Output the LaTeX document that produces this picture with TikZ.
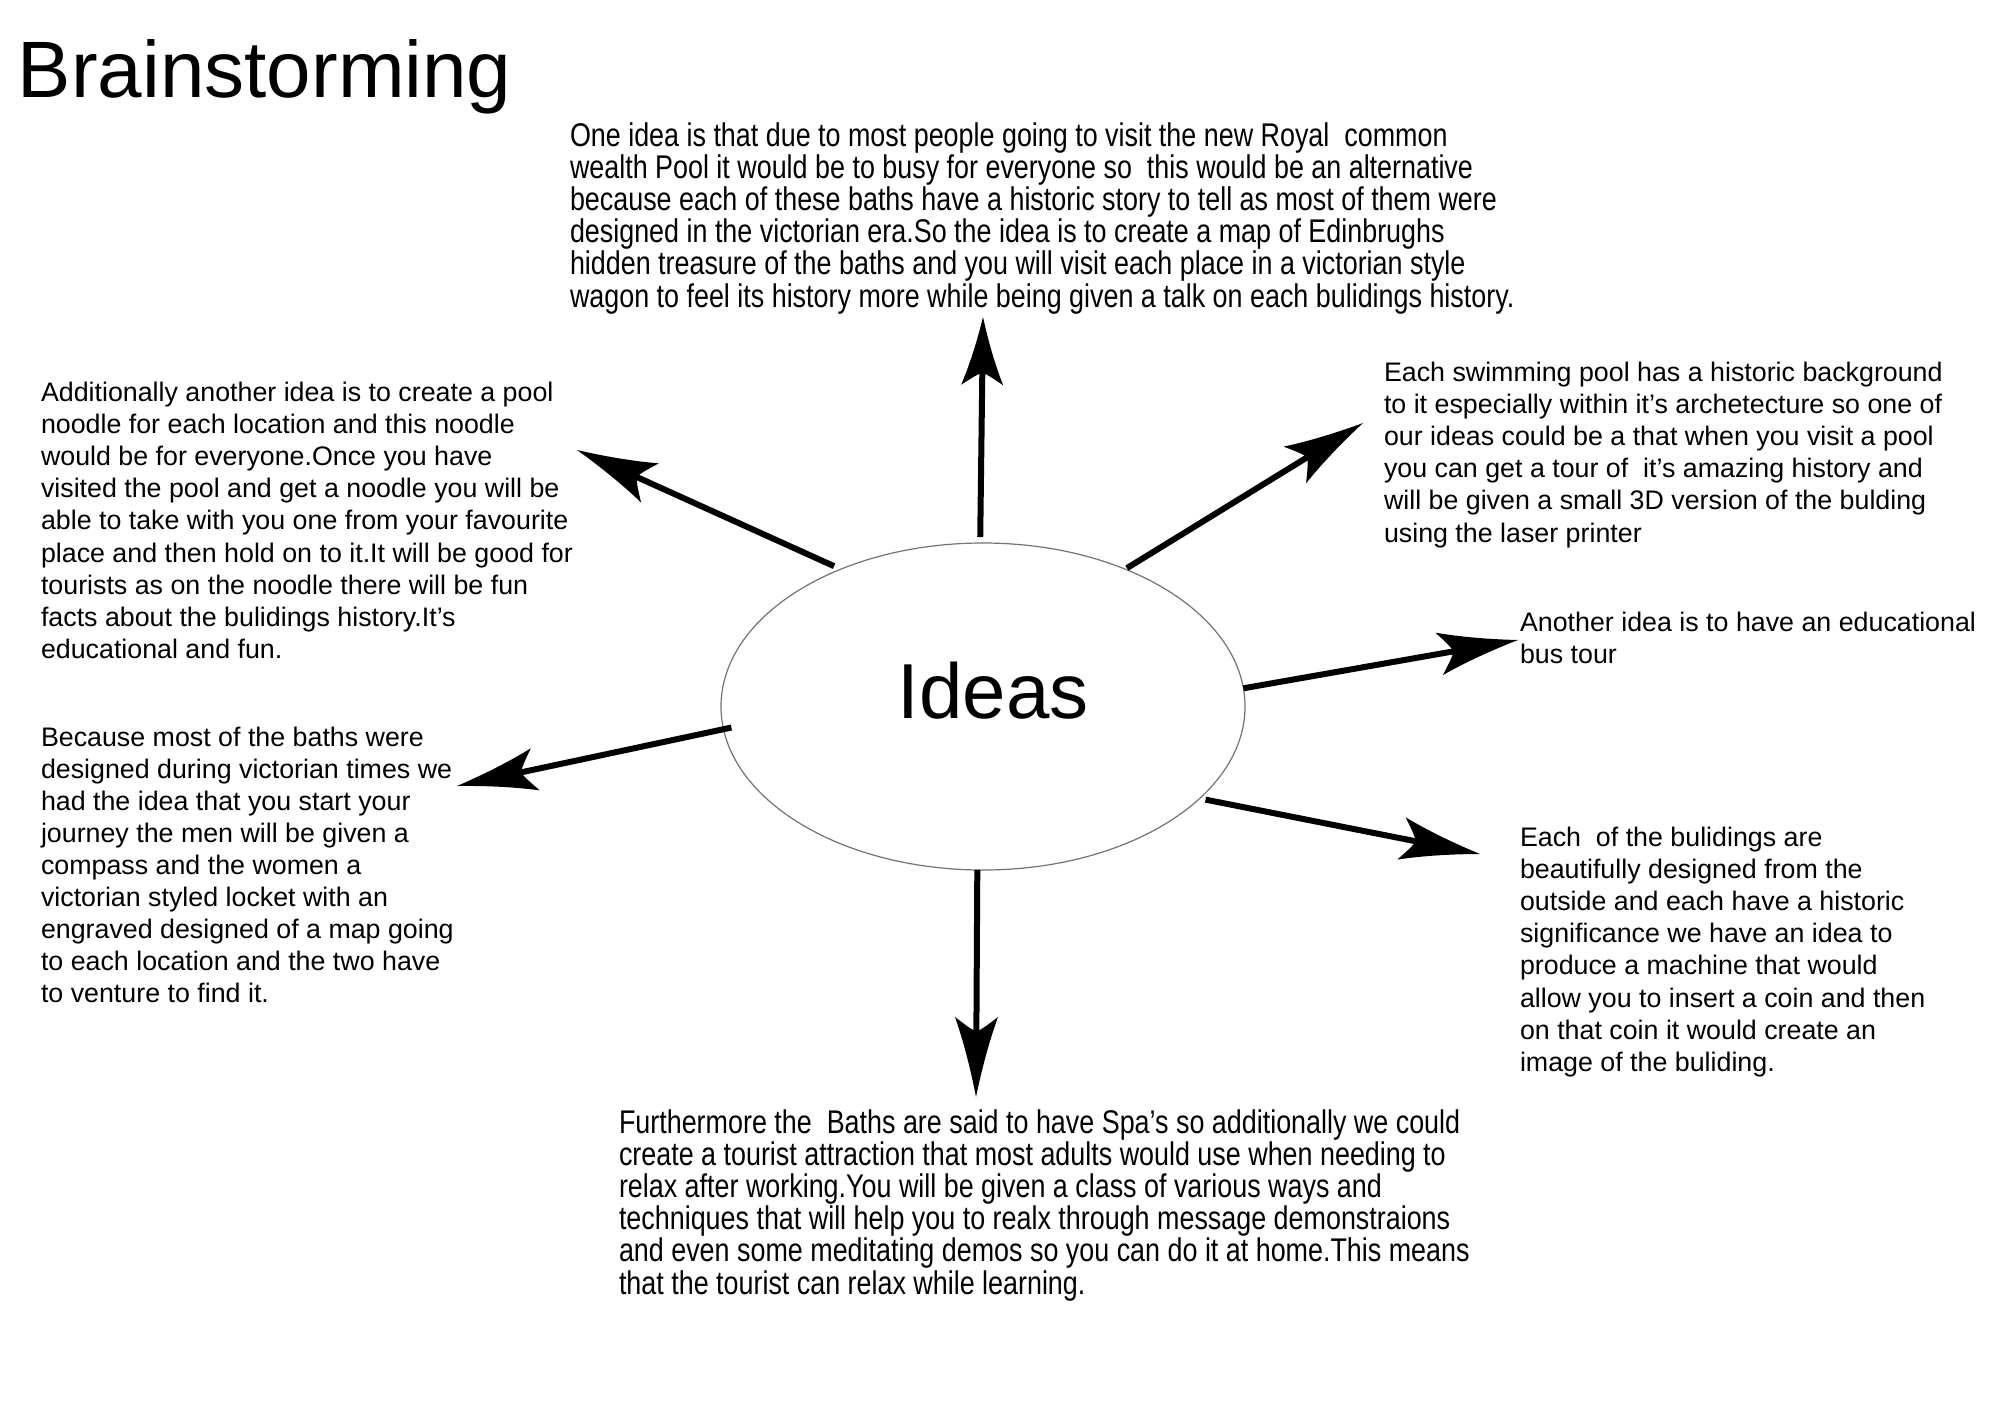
\documentclass[tikz,border=0pt]{standalone}
\usepackage{fontspec}
\setmainfont{Liberation Sans}
\newfontfamily\narrowfont[FakeStretch=0.82]{Liberation Sans}
\usetikzlibrary{shapes.geometric,arrows.meta}

\pgfdeclarearrow{
  name = Swept Barb,
  parameters = {\the\pgfarrowlength,\the\pgfarrowwidth},
  setup code = {
    \pgfarrowssettipend{0pt}
    \pgfarrowssetlineend{-.8\pgfarrowlength}
    \pgfarrowssetvisualbackend{-\pgfarrowlength}
    \pgfarrowssetbackend{-\pgfarrowlength}
    \pgfarrowshullpoint{0pt}{0pt}
    \pgfarrowshullpoint{-\pgfarrowlength}{.5\pgfarrowwidth}
    \pgfarrowshullpoint{-\pgfarrowlength}{-.5\pgfarrowwidth}
    \pgfarrowssavethe\pgfarrowlength
    \pgfarrowssavethe\pgfarrowwidth
  },
  drawing code = {
    \pgfpathmoveto{\pgfqpoint{0pt}{0pt}}
    \pgfpathcurveto{\pgfpoint{-.35\pgfarrowlength}{.13\pgfarrowwidth}}{\pgfpoint{-.7\pgfarrowlength}{.3\pgfarrowwidth}}{\pgfpoint{-\pgfarrowlength}{.5\pgfarrowwidth}}
    \pgfpathcurveto{\pgfpoint{-.92\pgfarrowlength}{.3\pgfarrowwidth}}{\pgfpoint{-.84\pgfarrowlength}{.12\pgfarrowwidth}}{\pgfpoint{-.82\pgfarrowlength}{0pt}}
    \pgfpathcurveto{\pgfpoint{-.84\pgfarrowlength}{-.12\pgfarrowwidth}}{\pgfpoint{-.92\pgfarrowlength}{-.3\pgfarrowwidth}}{\pgfpoint{-\pgfarrowlength}{-.5\pgfarrowwidth}}
    \pgfpathcurveto{\pgfpoint{-.7\pgfarrowlength}{-.3\pgfarrowwidth}}{\pgfpoint{-.35\pgfarrowlength}{-.13\pgfarrowwidth}}{\pgfqpoint{0pt}{0pt}}
    \pgfpathclose
    \pgfusepathqfill
  },
  defaults = {length = 40pt, width = 21.5pt}
}

\newcommand\blk[1]{\vtop{\halign{##\hfil\cr#1\crcr}}}

\begin{document}
\begin{tikzpicture}[x=0.5pt,y=-0.5pt,
  body/.style={inner sep=0pt, outer sep=0pt, anchor=base west, font=\fontsize{13.4}{16.05}\selectfont},
  narrow/.style={inner sep=0pt, outer sep=0pt, anchor=base west, font=\narrowfont\fontsize{16.4}{16.05}\selectfont},
  big/.style={inner sep=0pt, outer sep=0pt, font=\fontsize{40}{48}\selectfont},
  conn/.style={line width=3pt, -{Swept Barb}},
  ellipsebox/.style={ellipse, draw=black!55, line width=0.6pt, fill=white, minimum width=262pt, minimum height=163.5pt, inner sep=0pt, outer sep=0pt}]

\useasboundingbox[fill=white] (0,0) rectangle (2000,1414);

\node[big, anchor=base west] (title) at (18,97) {Brainstorming};

\node[ellipsebox] (ideas) at (983,706.5) {};
\node[big, anchor=base, font=\fontsize{39}{46}\selectfont] (ideaslabel) at (993,718) {Ideas};

\node[narrow] (top) at (570,146.5) {\blk{%
One idea is that due to most people going to visit the new Royal\ \ common\cr
wealth Pool it would be to busy for everyone so\ \ this would be an alternative\cr
because each of these baths have a historic story to tell as most of them were\cr
designed in the victorian era.So the idea is to create a map of Edinbrughs\cr
hidden treasure of the baths and you will visit each place in a victorian style\cr
wagon to feel its history more while being given a talk on each bulidings history.}};

\node[body] (noodle) at (41,401.5) {\blk{%
Additionally another idea is to create a pool\cr
noodle for each location and this noodle\cr
would be for everyone.Once you have\cr
visited the pool and get a noodle you will be\cr
able to take with you one from your favourite\cr
place and then hold on to it.It will be good for\cr
tourists as on the noodle there will be fun\cr
facts about the bulidings history.It’s\cr
educational and fun.}};

\node[body] (locket) at (41,746) {\blk{%
Because most of the baths were\cr
designed during victorian times we\cr
had the idea that you start your\cr
journey the men will be given a\cr
compass and the women a\cr
victorian styled locket with an\cr
engraved designed of a map going\cr
to each location and the two have\cr
to venture to find it.}};

\node[body] (tour) at (1384,381.5) {\blk{%
Each swimming pool has a historic background\cr
to it especially within it’s archetecture so one of\cr
our ideas could be a that when you visit a pool\cr
you can get a tour of\ \ it’s amazing history and\cr
will be given a small 3D version of the bulding\cr
using the laser printer}};

\node[body] (bus) at (1520,631.5) {\blk{%
Another idea is to have an educational\cr
bus tour}};

\node[body] (coin) at (1520,846.5) {\blk{%
Each\ \ of the bulidings are\cr
beautifully designed from the\cr
outside and each have a historic\cr
significance we have an idea to\cr
produce a machine that would\cr
allow you to insert a coin and then\cr
on that coin it would create an\cr
image of the buliding.}};

\node[narrow] (spa) at (619,1133.5) {\blk{%
Furthermore the\ \ Baths are said to have Spa’s so additionally we could\cr
create a tourist attraction that most adults would use when needing to\cr
relax after working.You will be given a class of various ways and\cr
techniques that will help you to realx through message demonstraions\cr
and even some meditating demos so you can do it at home.This means\cr
that the tourist can relax while learning.}};

\coordinate (tUp) at (983,317);
\coordinate (tUR) at (1363,423);
\coordinate (tR) at (1518,640);
\coordinate (tLR) at (1480,854);
\coordinate (tDown) at (976,1097);
\coordinate (tLL) at (457,786);
\coordinate (tUL) at (577,450);

\draw[conn, -{Swept Barb[length=34pt,width=21pt]}, shorten <=3pt] (ideas.91) -- (tUp);
\draw[conn, shorten <=1pt] (ideas.44.6) -- (tUR);
\draw[conn] (ideas.4.2) -- (tR);
\draw[conn, shorten <=3pt] (ideas.337.7) -- (tLR);
\draw[conn] (ideas.268.4) -- (tDown);
\draw[conn, shorten <=-4pt] (ideas.185.1) -- (tLL);
\draw[conn, shorten <=3.7pt] (ideas.136.7) -- (tUL);
\end{tikzpicture}
\end{document}
